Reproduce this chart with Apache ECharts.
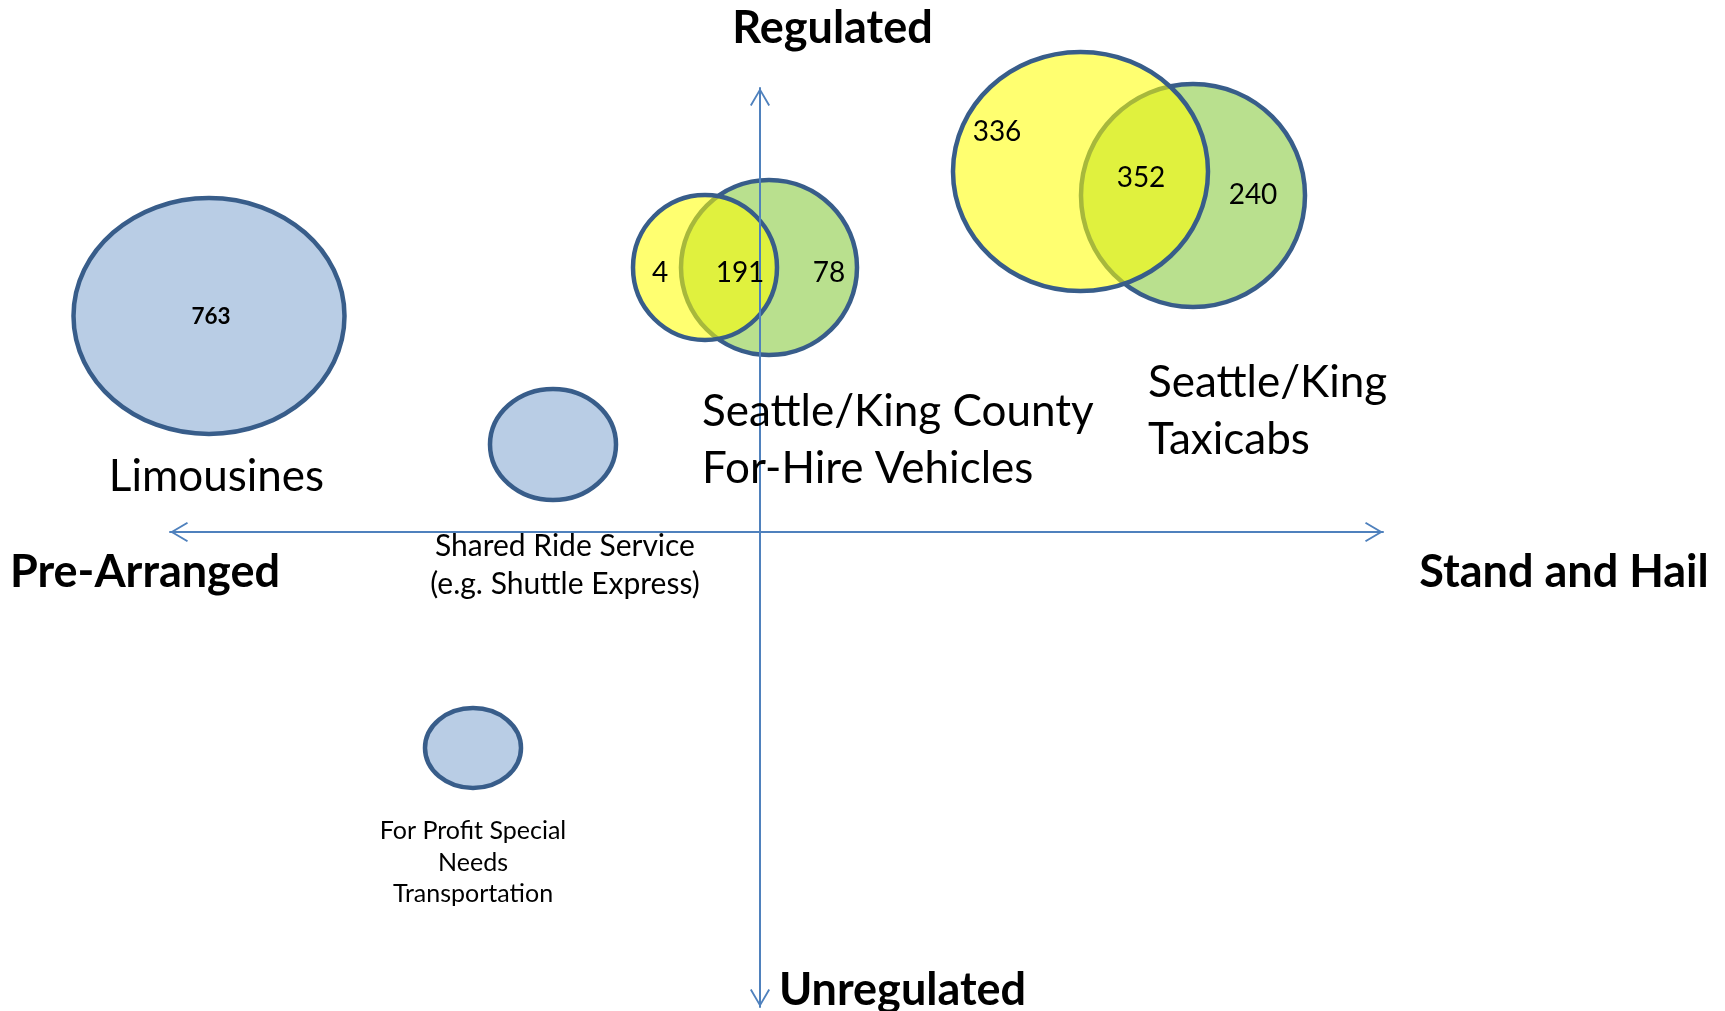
<!DOCTYPE html>
<html>
<head>
<meta charset="utf-8">
<script src="https://cdn.jsdelivr.net/npm/echarts@6/dist/echarts.min.js"></script>
<style>
html, body { margin: 0; padding: 0; background: #fff; }
#main { width: 1725px; height: 1011px; }
</style>
</head>
<body>
<div id="main"></div>
<script>
// bubbles (drawn in this order, later ones on top)
var bubbleNames = ['Limousines', 'Shared Ride Service', 'For Profit Special Needs Transportation',
  'King County For-Hire', 'Seattle For-Hire', 'King County Taxicabs', 'Seattle Taxicabs'];
var bubbleX = [-5.51, -2.07, -2.87, 0.09, -0.55, 4.33, 3.205];
var bubbleY = [2.16, 0.875, -2.16, 2.645, 2.645, 3.365, 3.605];
var bubbleW = [2.71, 1.26, 0.96, 1.76, 1.44, 2.24, 2.55];
var bubbleH = [2.36, 1.11, 0.80, 1.75, 1.45, 2.23, 2.39];
var bubbleKind = ['other', 'other', 'other', 'kc', 'sea', 'kc', 'sea'];

// counts written inside the bubbles
var countText = ['763', '4', '191', '78', '336', '352', '240'];
var countX = [-5.49, -1.00, -0.20, 0.69, 2.37, 3.81, 4.93];
var countY = [2.155, 2.59, 2.59, 2.59, 4.00, 3.54, 3.37];
var countKind = ['numBold', 'num', 'num', 'num', 'num', 'num', 'num'];

// names of the groups and of the axis ends
var labelText = ['Limousines', 'Seattle/King County\nFor-Hire Vehicles', 'Seattle/King\nTaxicabs',
  'Shared Ride Service\n(e.g. Shuttle Express)', 'For Profit Special\nNeeds\nTransportation',
  'Regulated', 'Unregulated', 'Pre-Arranged', 'Stand and Hail'];
var labelX = [-5.435, -0.58, 3.88, -1.95, -2.87, 0.725, 1.425, -6.15, 8.04];
var labelY = [0.55, 0.92, 1.21, -0.33, -3.305, 5.04, -4.58, -0.40, -0.40];
var labelKind = ['big', 'bigLeft', 'bigLeft', 'mid', 'small', 'axis', 'axis', 'axis', 'axis'];

var FONT = 'Lato';
var fills = { other: '#B9CDE5', kc: '#B9E08E', sea: 'rgba(255,255,0,0.56)' };
var textStyles = {
  big:     { size: 44, weight: 'normal', align: 'center', lh: 57 },
  bigLeft: { size: 44, weight: 'normal', align: 'left',   lh: 57 },
  mid:     { size: 30, weight: 'normal', align: 'center', lh: 38 },
  small:   { size: 25, weight: 'normal', align: 'center', lh: 31.5 },
  axis:    { size: 45, weight: 'bold',   align: 'center', lh: 50 },
  num:     { size: 28, weight: 'normal', align: 'center', lh: 30 },
  numBold: { size: 22.5, weight: 'bold', align: 'center', lh: 26 }
};

var arrowPath = 'path://M10,0 L20,17 L18.4,18 L10,3.6 L1.6,18 L0,17 Z M10,-18 L10.01,-18 L10,-17.99 Z';

var bubbleData = [];
for (var i = 0; i < bubbleNames.length; i++) {
  bubbleData.push({ name: bubbleNames[i], value: [bubbleX[i], bubbleY[i], bubbleW[i], bubbleH[i], i] });
}
var textData = [];
for (var i = 0; i < countText.length; i++) {
  textData.push({ value: [countX[i], countY[i], i], text: countText[i], kind: countKind[i] });
}
for (var i = 0; i < labelText.length; i++) {
  textData.push({ value: [labelX[i], labelY[i], i], text: labelText[i], kind: labelKind[i] });
}

function axisCommon(min, max) {
  return {
    type: 'value',
    min: min,
    max: max,
    z: 10,
    axisLine: {
      show: true,
      onZero: true,
      symbol: [arrowPath, arrowPath],
      symbolSize: [20, 36],
      lineStyle: { color: '#4F81BD', width: 2 }
    },
    axisTick: { show: false },
    axisLabel: { show: false },
    splitLine: { show: false }
  };
}

var chart = echarts.init(document.getElementById('main'));
var option = {
  animation: false,
  backgroundColor: '#fff',
  grid: { left: 170, right: 342, top: 88, bottom: 4, outerBoundsMode: 'none' },
  xAxis: axisCommon(-5.9, 6.23),
  yAxis: axisCommon(-4.75, 4.44),
  series: [
    {
      name: 'bubbles',
      type: 'custom',
      z: 2,
      silent: true,
      data: bubbleData,
      renderItem: function (params, api) {
        var c = api.coord([api.value(0), api.value(1)]);
        var s = api.size([api.value(2), api.value(3)]);
        var kind = bubbleKind[api.value(4)];
        return {
          type: 'ellipse',
          shape: { cx: c[0], cy: c[1], rx: s[0] / 2, ry: s[1] / 2 },
          style: { fill: fills[kind], stroke: '#385D8A', lineWidth: 4.5 }
        };
      }
    },
    {
      name: 'texts',
      type: 'custom',
      z: 20,
      silent: true,
      data: textData,
      renderItem: function (params, api) {
        var item = textData[params.dataIndex];
        var st = textStyles[item.kind];
        var c = api.coord([api.value(0), api.value(1)]);
        return {
          type: 'text',
          x: c[0],
          y: c[1],
          style: {
            text: item.text,
            fill: '#000',
            fontFamily: FONT,
            fontSize: st.size,
            fontWeight: st.weight,
            align: st.align,
            verticalAlign: 'middle',
            lineHeight: st.lh
          }
        };
      }
    }
  ]
};
chart.setOption(option);
</script>
</body>
</html>
